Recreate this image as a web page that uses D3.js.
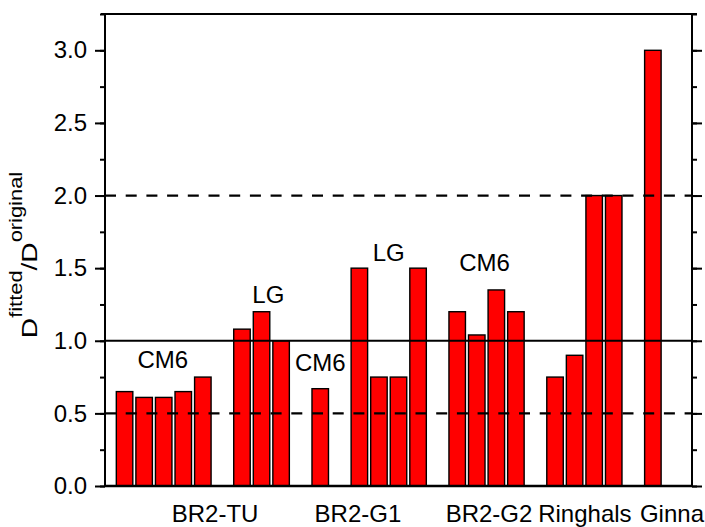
<!DOCTYPE html>
<html>
<head>
<meta charset="utf-8">
<script src="https://cdn.jsdelivr.net/npm/d3@7/dist/d3.min.js"></script>
<style>
  body { margin: 0; background: #fff; }
  text { font-family: "Liberation Sans", Arial, sans-serif; fill: #000; }
</style>
</head>
<body>
<svg id="chart" width="705" height="527"></svg>
<script>
// bar values, one array per block of bars (left to right)
var cm6TU   = [0.65, 0.61, 0.61, 0.65, 0.75];
var lgTU    = [1.08, 1.20, 1.00];
var cm6G1   = [0.67];
var lgG1    = [1.50, 0.75, 0.75, 1.50];
var cm6G2   = [1.20, 1.04, 1.35, 1.20];
var ringhals = [0.75, 0.90, 2.00, 2.00];
var ginna   = [3.00];

// model labels written above the blocks (slot, value)
var noteText = ["CM6", "LG", "CM6", "LG", "CM6"];
var noteX    = [1.95, 7.35, 10, 13.5, 18.4];
var noteY    = [0.81, 1.26, 0.79, 1.55, 1.48];

// reactor labels under the axis
var groups     = ["BR2-TU", "BR2-G1", "BR2-G2", "Ringhals", "Ginna"];
var groupSlots = [4.6, 11.9, 18.6, 23.5, 27.95];

var yTicks = [0, 0.5, 1.0, 1.5, 2.0, 2.5, 3.0];
var refDashed = [0.5, 2.0];
var refSolid = [1.0];

var blocks = [cm6TU, lgTU, cm6G1, lgG1, cm6G2, ringhals, ginna];

// give every bar a slot, one empty slot between blocks
var bars = [], slot = 0;
blocks.forEach(function(b)
{
	b.forEach(function(v) { bars.push({slot: slot, value: v}); slot++; });
	slot++;
});

var pLeft = 105, pRight = 692, pTop = 14, pBottom = 486;
var svg = d3.select("#chart");

var x = d3.scaleLinear().domain([-1, 29]).range([pLeft, pRight]);
var y = d3.scaleLinear().domain([0, 3.25]).range([pBottom, pTop]);
var barW = 16.5;

// bars
svg.append("g").selectAll("rect")
	.data(bars)
	.enter()
	.append("rect")
	.attr("x", function(d) { return x(d.slot) - barW/2; })
	.attr("y", function(d) { return y(d.value); })
	.attr("width", barW)
	.attr("height", function(d) { return y(0) - y(d.value); })
	.style("fill", "#ff0000")
	.style("stroke", "#000")
	.style("stroke-width", 1.4);

// reference lines
svg.append("g").selectAll("line")
	.data(refDashed)
	.enter()
	.append("line")
	.attr("x1", pLeft).attr("x2", pRight)
	.attr("y1", function(d) { return y(d); })
	.attr("y2", function(d) { return y(d); })
	.style("stroke", "#000")
	.style("stroke-width", 2.2)
	.style("stroke-dasharray", "11,9.7");

svg.append("g").selectAll("line")
	.data(refSolid)
	.enter()
	.append("line")
	.attr("x1", pLeft).attr("x2", pRight)
	.attr("y1", function(d) { return y(d); })
	.attr("y2", function(d) { return y(d); })
	.style("stroke", "#000")
	.style("stroke-width", 2.2);

// y axes, left with labels, right ticks only
var minor = d3.range(0, 3.26, 0.25);

var leftAxis = svg.append("g")
	.attr("transform", "translate(" + pLeft + ",0)")
	.call(d3.axisLeft(y).tickValues(yTicks).tickFormat(d3.format(".1f")).tickSize(10).tickPadding(8));
svg.append("g")
	.attr("transform", "translate(" + pLeft + ",0)")
	.call(d3.axisLeft(y).tickValues(minor).tickFormat("").tickSize(5));

svg.append("g")
	.attr("transform", "translate(" + pRight + ",0)")
	.call(d3.axisRight(y).tickValues(yTicks).tickFormat("").tickSize(10));
svg.append("g")
	.attr("transform", "translate(" + pRight + ",0)")
	.call(d3.axisRight(y).tickValues(minor).tickFormat("").tickSize(5));

svg.selectAll(".domain").remove();
svg.selectAll(".tick line").style("stroke", "#000").style("stroke-width", 2);
leftAxis.selectAll(".tick text").style("font-size", "24px").style("font-family", "Liberation Sans, Arial, sans-serif");

// frame
svg.append("line").attr("x1", pLeft).attr("x2", pLeft).attr("y1", pTop - 1).attr("y2", pBottom)
	.style("stroke", "#000").style("stroke-width", 2);
svg.append("line").attr("x1", pRight).attr("x2", pRight).attr("y1", pTop - 1).attr("y2", pBottom)
	.style("stroke", "#000").style("stroke-width", 2);
svg.append("line").attr("x1", pLeft - 4).attr("x2", pRight + 5).attr("y1", pTop).attr("y2", pTop)
	.style("stroke", "#000").style("stroke-width", 2);

// x axis: group names, no ticks
var xAxis = svg.append("g")
	.attr("transform", "translate(0," + pBottom + ")")
	.call(d3.axisBottom(x).tickValues(groupSlots)
		.tickFormat(function(d, i) { return groups[i]; })
		.tickSize(0).tickPadding(19));
xAxis.select(".domain").remove();
xAxis.selectAll(".tick text").style("font-size", "24px").style("font-family", "Liberation Sans, Arial, sans-serif");
svg.append("line").attr("x1", pLeft).attr("x2", pRight).attr("y1", pBottom).attr("y2", pBottom)
	.style("stroke", "#000").style("stroke-width", 2.5);

// notes over blocks
svg.append("g").selectAll("text")
	.data(noteText)
	.enter()
	.append("text")
	.attr("x", function(d, i) { return x(noteX[i]); })
	.attr("y", function(d, i) { return y(noteY[i]); })
	.attr("text-anchor", "middle")
	.style("font-size", "24px")
	.text(function(d) { return d; });

// y title
var title = svg.append("text")
	.attr("transform", "translate(37,255) rotate(-90) scale(1.25,1)")
	.attr("text-anchor", "middle")
	.style("font-size", "22.5px");
title.append("tspan").text("D");
title.append("tspan").attr("dy", -15.5).style("font-size", "17.5px").text("fitted");
title.append("tspan").attr("dy", 15.5).text("/D");
title.append("tspan").attr("dy", -15.5).style("font-size", "17.5px").text("original");
</script>
</body>
</html>
